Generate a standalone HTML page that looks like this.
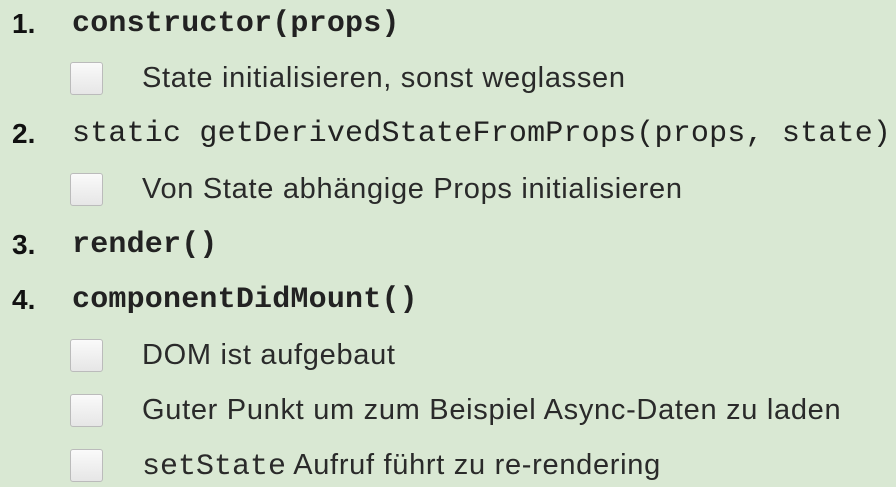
<!DOCTYPE html>
<html><head><meta charset="utf-8"><style>
html,body{margin:0;padding:0}
body{width:896px;height:485px;background:#d9e8d3;position:relative;overflow:hidden;font-family:"Liberation Sans",sans-serif;color:#222}
.r{position:absolute;left:0;height:40px;line-height:40px;white-space:nowrap}
.n{position:absolute;left:12px;font-weight:bold;font-size:28px;color:#111}
.c{position:absolute;left:72px;font-family:"Liberation Mono",monospace;font-size:30px;letter-spacing:0.2px}
.b{font-weight:bold}
.cb{position:absolute;left:70px;top:4px;width:33px;height:33px;border:1px solid #bbb;border-radius:3px;background:linear-gradient(#fafafa,#e6e6e6);box-sizing:border-box}
.t{position:absolute;left:142px;font-size:29px;letter-spacing:0.7px;color:#2a2a2a}
.m{font-family:"Liberation Mono",monospace;font-size:30px;letter-spacing:0}
</style></head><body>
<div class="r" style="top:4px"><span class="n">1.</span><span class="c b">constructor(props)</span></div>
<div class="r" style="top:58px"><span class="cb"></span><span class="t">State initialisieren, sonst weglassen</span></div>
<div class="r" style="top:114px"><span class="n">2.</span><span class="c">static getDerivedStateFromProps(props, state)</span></div>
<div class="r" style="top:169px"><span class="cb"></span><span class="t">Von State abhängige Props initialisieren</span></div>
<div class="r" style="top:225px"><span class="n">3.</span><span class="c b">render()</span></div>
<div class="r" style="top:280px"><span class="n">4.</span><span class="c b">componentDidMount()</span></div>
<div class="r" style="top:335px"><span class="cb"></span><span class="t">DOM ist aufgebaut</span></div>
<div class="r" style="top:390px"><span class="cb"></span><span class="t">Guter Punkt um zum Beispiel Async-Daten zu laden</span></div>
<div class="r" style="top:445px"><span class="cb"></span><span class="t"><span class="m">setState</span> Aufruf führt zu re-rendering</span></div>
</body></html>
